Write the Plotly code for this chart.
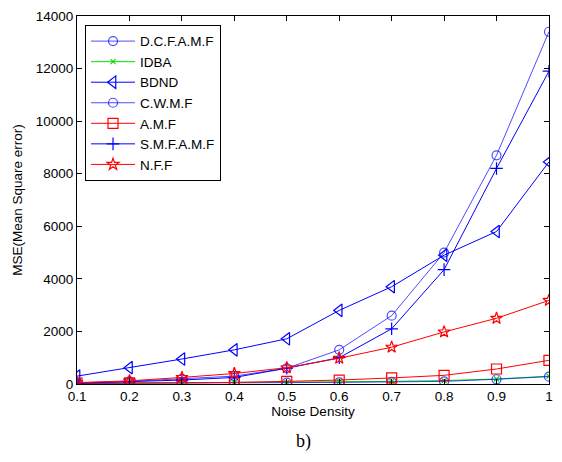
import plotly.graph_objects as go

noise = [0.1, 0.2, 0.3, 0.4, 0.5, 0.6, 0.7, 0.8, 0.9, 1.0]
dcfamf = [50, 100, 200, 300, 600, 1300, 2600, 5000, 8700, 13400]
idba = [20, 30, 40, 50, 60, 80, 100, 130, 190, 300]
bdnd = [300, 620, 950, 1300, 1720, 2800, 3700, 4900, 5800, 8450]
cwmf = [20, 25, 30, 40, 50, 60, 80, 100, 180, 280]
amf = [30, 40, 50, 60, 100, 150, 230, 330, 570, 900]
smfamf = [30, 80, 150, 250, 600, 1000, 2100, 4350, 8200, 11900]
nff = [50, 120, 250, 400, 620, 980, 1400, 1980, 2500, 3180]

series = [
    ("D.C.F.A.M.F", dcfamf, "rgba(0,0,255,0.7)", "circle-open", 9),
    ("IDBA", idba, "#00e000", "x-thin-open", 5),
    ("BDND", bdnd, "#0000ff", "triangle-left-open", 11),
    ("C.W.M.F", cwmf, "rgba(0,0,255,0.7)", "circle-open", 9),
    ("A.M.F", amf, "#ff0000", "square-open", 10),
    ("S.M.F.A.M.F", smfamf, "#0000ff", "cross-thin-open", 9),
    ("N.F.F", nff, "#ff0000", "star-open", 9),
]

fig = go.Figure()
for name, vals, color, sym, size in series:
    fig.add_trace(go.Scatter(
        x=noise, y=vals, name=name, mode="lines+markers",
        line=dict(color=color, width=1),
        marker=dict(symbol=sym, size=size, color=color, line=dict(color=color, width=1.2)),
    ))

FS = 13.5
axis_common = dict(
    showline=True, linecolor="black", linewidth=1, mirror="ticks",
    ticks="inside", ticklen=5, tickcolor="black", showgrid=False, zeroline=False,
    tickfont=dict(family="Arial", size=FS, color="black"),
    ticklabeloverflow="allow",
)
fig.update_xaxes(range=[0.0999, 1.0001], tickmode="linear", tick0=0.1, dtick=0.1,
                 title=dict(text="Noise Density", font=dict(family="Arial", size=FS, color="black"), standoff=3),
                 **axis_common)
fig.update_yaxes(range=[0, 14000], dtick=2000, tickformat="d",
                 title=dict(text="MSE(Mean Square error)", font=dict(family="Arial", size=FS, color="black"), standoff=10),
                 **axis_common)

fig.update_layout(
    width=562, height=462,
    margin=dict(l=77, r=9, t=11, b=78),
    plot_bgcolor="white", paper_bgcolor="white",
    font=dict(family="Arial", size=FS, color="black"),
    legend=dict(x=0.017, y=0.976, xanchor="left", yanchor="top",
                bordercolor="black", borderwidth=1, bgcolor="white",
                font=dict(family="Arial", size=FS, color="black"),
                itemwidth=44, tracegroupgap=0),
    annotations=[dict(text="b)", x=0.479, y=-0.155, xref="paper", yref="paper",
                      showarrow=False, font=dict(family="Times New Roman, Liberation Serif, serif", size=18, color="black"),
                      xanchor="center", yanchor="middle")],
)

fig.write_html("out.html", config={"displayModeBar": False},
               post_script="document.body.style.margin='0';document.body.style.overflow='hidden';")
